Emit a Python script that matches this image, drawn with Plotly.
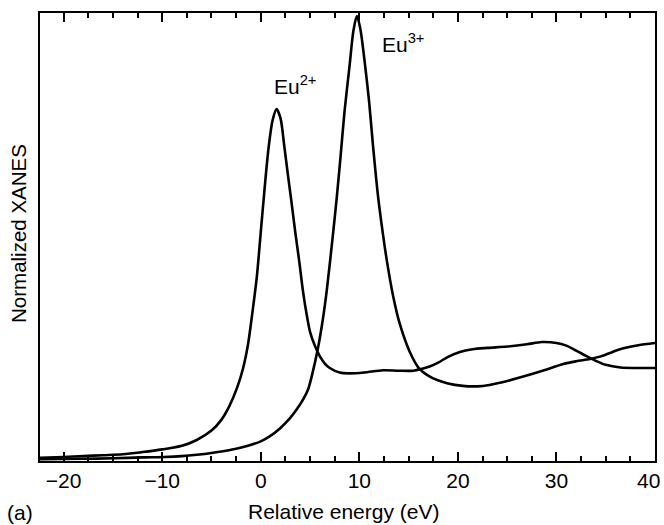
import plotly.graph_objects as go

# Eu2+ spectrum (relative energy in eV, normalized XANES)
eu2_energy = [-22.4, -20, -18, -16, -14, -12, -10, -8, -6.5, -5, -4, -3.2, -2.4, -1.8, -1.3, -0.85,
              -0.4, 0, 0.4, 0.8, 1.2, 1.6, 2.0, 2.4, 2.8, 3.1, 3.5, 3.9, 4.3, 4.7, 5.0, 5.5, 6.0,
              6.5, 7.0, 8.0, 9.0, 10.5, 12.4, 14, 15.5, 16.3, 17.2, 18, 19, 20.2, 21.5, 23, 25,
              27, 28.5, 30, 31, 32, 33, 34, 35, 36.5, 38, 40]
eu2_xanes = [0.005, 0.007, 0.009, 0.011, 0.013, 0.018, 0.024, 0.032, 0.045, 0.066, 0.09, 0.12,
             0.162, 0.205, 0.258, 0.33, 0.41, 0.51, 0.61, 0.70, 0.76, 0.785, 0.765, 0.70, 0.63,
             0.58, 0.51, 0.445, 0.375, 0.32, 0.287, 0.255, 0.232, 0.216, 0.206, 0.196, 0.194,
             0.196, 0.201, 0.200, 0.200, 0.204, 0.210, 0.218, 0.231, 0.242, 0.248, 0.251, 0.254,
             0.259, 0.264, 0.262, 0.256, 0.245, 0.233, 0.222, 0.213, 0.207, 0.206, 0.206]

# Eu3+ spectrum
eu3_energy = [-22.4, -18, -15, -12, -9.75, -8, -6.5, -5, -3, -1.3, 0, 0.9, 2.0, 2.9, 3.6, 4.3,
              4.8, 5.2, 5.8, 6.3, 6.7, 7.3, 7.7, 8.1, 8.5, 9.0, 9.4, 9.75, 10.1, 10.6, 11.0, 11.4,
              11.9, 12.4, 12.8, 13.4, 14.1, 15.1, 16.1, 17.2, 17.9, 18.9, 20.5, 22, 23.2, 24.5,
              26, 28.6, 30.7, 32, 33.4, 34.5, 35.7, 36.8, 38.3, 40]
eu3_xanes = [0.002, 0.003, 0.004, 0.006, 0.007, 0.009, 0.012, 0.016, 0.023, 0.032, 0.042, 0.053,
             0.072, 0.092, 0.112, 0.136, 0.158, 0.19, 0.25, 0.315, 0.38, 0.50, 0.585, 0.68, 0.78,
             0.88, 0.96, 0.993, 0.965, 0.88, 0.80, 0.70, 0.59, 0.505, 0.445, 0.37, 0.305, 0.243,
             0.204, 0.186, 0.179, 0.172, 0.166, 0.165, 0.168, 0.174, 0.183, 0.2, 0.215, 0.221,
             0.226, 0.232, 0.242, 0.25, 0.257, 0.262]

tick_vals = [-20, -10, 0, 10, 20, 30, 40]
tick_text = ["\u221220", "\u221210", "0", "10", "20", "30", ""]
last_tick_label = "40"

FONT = "Liberation Sans, Arial, Helvetica, sans-serif"
LINE = dict(color="black", width=2.6, shape="spline", smoothing=0.8)

fig = go.Figure()
fig.add_trace(go.Scatter(x=eu2_energy, y=eu2_xanes, mode="lines", line=LINE,
                         name="Eu2+", showlegend=False))
fig.add_trace(go.Scatter(x=eu3_energy, y=eu3_xanes, mode="lines", line=LINE,
                         name="Eu3+", showlegend=False))

fig.update_layout(
    width=664, height=525,
    margin=dict(l=40, r=9, t=13, b=64, autoexpand=False),
    paper_bgcolor="white", plot_bgcolor="white",
    font=dict(family=FONT, size=21, color="black"),
    xaxis=dict(range=[-22.4, 40], tickvals=tick_vals, ticktext=tick_text,
               ticks="inside", ticklen=9, tickwidth=2, tickcolor="black",
               minor=dict(dtick=2.5, tick0=0, ticks="inside", ticklen=5, tickwidth=1.5,
                          tickcolor="black", showgrid=False),
               showline=True, linecolor="black", linewidth=2, mirror="ticks",
               showgrid=False, zeroline=False, ticklabeloverflow="allow", automargin=False,
               tickfont=dict(size=21, family=FONT)),
    xaxis2=dict(range=[-22.4, 40], overlaying="x", anchor="y", side="bottom",
                dtick=5, tick0=0, ticks="inside", ticklen=9, tickwidth=2, tickcolor="black",
                showticklabels=False, showline=False, mirror="ticks", automargin=False,
                showgrid=False, zeroline=False),
    yaxis=dict(range=[-0.002, 1.0], showticklabels=False, ticks="", automargin=False,
               showline=True, linecolor="black", linewidth=2, mirror=True,
               showgrid=False, zeroline=False),
    annotations=[
        dict(text=last_tick_label, xref="paper", yref="paper", x=1.0, y=-0.0446, xshift=7,
             xanchor="right", yanchor="middle", showarrow=False, font=dict(size=21)),
        dict(text="Relative energy (eV)", xref="paper", yref="paper", x=0.494, y=-0.112,
             xanchor="center", yanchor="middle", showarrow=False, font=dict(size=21)),
        dict(text="(a)", xref="paper", yref="paper", x=-0.0325, y=-0.116,
             xanchor="center", yanchor="middle", showarrow=False, font=dict(size=21)),
        dict(text="Normalized XANES", xref="paper", yref="paper", x=-0.034, y=0.507,
             xanchor="center", yanchor="middle", textangle=-90, showarrow=False,
             font=dict(size=20.5)),
        dict(text="Eu<sup>2+</sup>", xref="x", yref="y", x=1.12, y=0.84,
             xanchor="left", yanchor="middle", showarrow=False, font=dict(size=21)),
        dict(text="Eu<sup>3+</sup>", xref="x", yref="y", x=12.08, y=0.934,
             xanchor="left", yanchor="middle", showarrow=False, font=dict(size=21)),
    ],
)

fig.write_html("out.html", config={"displayModeBar": False},
               post_script="document.body.style.margin='0px';")
